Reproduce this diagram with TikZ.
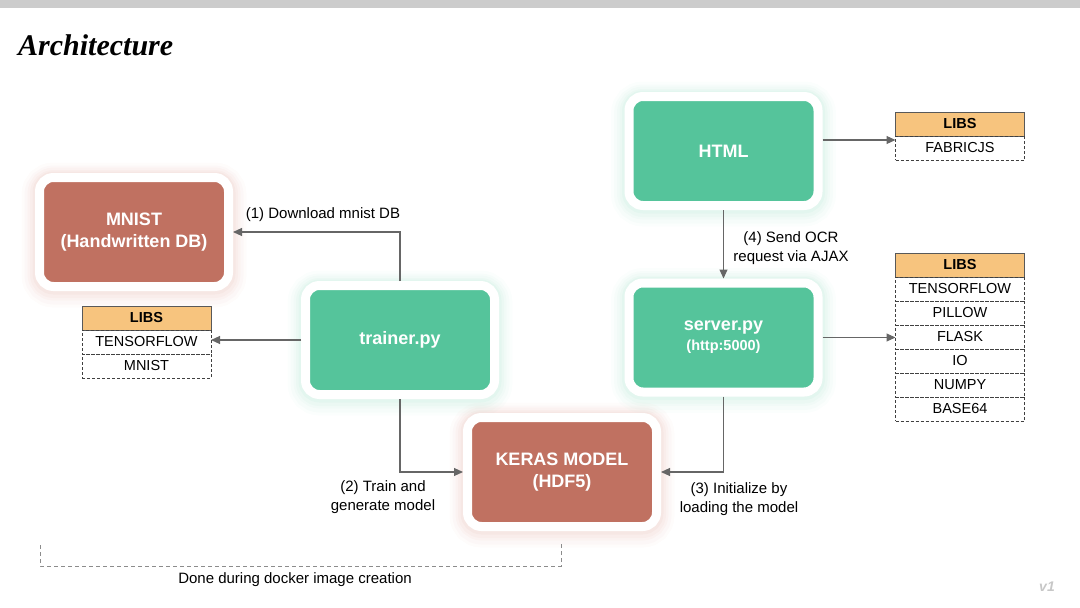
\documentclass[tikz,border=0pt]{standalone}
\usepackage{fontspec}
\setmainfont{Liberation Sans}
\newfontfamily\titlefont{Liberation Serif}
\usetikzlibrary{positioning,arrows.meta}

\definecolor{boxgreen}{HTML}{55C49B}
\definecolor{boxred}{HTML}{C07161}
\definecolor{libsorange}{HTML}{F7C47E}
\definecolor{arrowgray}{HTML}{666666}
\definecolor{glowred}{HTML}{D99488}
\definecolor{glowgreen}{HTML}{86D6B8}

\tikzset{
  block/.style={minimum width=189pt, minimum height=109pt, rounded corners=14pt, draw=white, line width=9pt, text=white, font=\bfseries\fontsize{18}{22}\selectfont, align=center},
  glow/.style={preaction={draw=#1, line width=36pt, opacity=.03, transform canvas={yshift=-3pt}},
    preaction={draw=#1, line width=30pt, opacity=.04, transform canvas={yshift=-3pt}},
    preaction={draw=#1, line width=24pt, opacity=.05, transform canvas={yshift=-2pt}},
    preaction={draw=#1, line width=19pt, opacity=.06, transform canvas={yshift=-2pt}},
    preaction={draw=#1, line width=14pt, opacity=.07, transform canvas={yshift=-1pt}}},
  greenblock/.style={block, fill=boxgreen, glow=glowgreen},
  redblock/.style={block, fill=boxred, glow=glowred},
  libshead/.style={draw=black!65, fill=libsorange, minimum width=129pt, minimum height=24pt, inner sep=0pt, outer sep=0pt, line width=.8pt, font=\bfseries\fontsize{14.5}{16}\selectfont},
  librow/.style={draw=black!75, dash pattern=on 3pt off 2pt, minimum width=129pt, minimum height=24pt, inner sep=0pt, outer sep=0pt, line width=.7pt, font=\fontsize{14.5}{16}\selectfont},
  arr/.style={draw=arrowgray, line width=1.1pt, -{Triangle[length=9pt,width=8pt]}},
  steplabel/.style={font=\fontsize{15}{18.5}\selectfont, align=center},
  bracket/.style={draw=black!45, line width=.7pt, dash pattern=on 4pt off 3pt},
}

\begin{document}
\begin{tikzpicture}[x=1pt,y=-1pt]
  \useasboundingbox (0,0) rectangle (1080,608);
  \fill[black!20] (0,0) rectangle (1080,8);
  \node[anchor=base west, inner sep=0pt, font=\titlefont\bfseries\itshape\fontsize{30}{33}\selectfont] (title) at (18,55) {Architecture};

  % blocks
  \node[redblock] (mnist) at (134,232) {MNIST\\(Handwritten DB)};
  \node[greenblock] (trainer) at (400,340) {trainer.py};
  \node[redblock] (keras) at (562,472) {KERAS MODEL\\(HDF5)};
  \node[greenblock] (html) at (723.5,151) {HTML};
  \node[greenblock] (server) at (723.5,337.5) {server.py\\[-2pt]{\fontsize{14.5}{16}\selectfont(http:5000)}};

  % libs
  \node[libshead] (libsa) at (146.5,318) {LIBS};
  \node[librow, below=0pt of libsa] (libsa1) {TENSORFLOW};
  \node[librow, below=0pt of libsa1] (libsa2) {MNIST};

  \node[libshead] (libsb) at (960,124) {LIBS};
  \node[librow, below=0pt of libsb] (libsb1) {FABRICJS};

  \node[libshead] (libsc0) at (960,265) {LIBS};
  \foreach \lib [count=\i, remember=\i as \j (initially 0)] in {TENSORFLOW,PILLOW,FLASK,IO,NUMPY,BASE64}
    \node[librow, below=0pt of libsc\j] (libsc\i) {\lib};

  % connectors
  \draw[arr] (trainer.west) -- (trainer.west -| libsa1.east);
  \draw[arr] (trainer.north) |- (mnist.east);
  \draw[arr] (trainer.south) |- (keras.west);
  \draw[arr] (server.south) |- (keras.east);
  \draw[arr] (html.south) -- (server.north);
  \coordinate (htmlout) at ([yshift=11pt]html.east);
  \draw[arr] (htmlout) -- (htmlout -| libsb1.west);
  \draw[arr] (server.east) -- (server.east -| libsc3.west);

  % labels
  \node[steplabel] (lbl1) at (323,215) {(1) Download mnist DB};
  \node[steplabel] (lbl2) at (383,497) {(2) Train and\\generate model};
  \node[steplabel] (lbl3) at (739,499) {(3) Initialize by\\loading the model};
  \node[steplabel] (lbl4) at (791,248) {(4) Send OCR\\request via AJAX};

  % docker bracket
  \coordinate (docka) at (40,545);
  \coordinate (dockb) at (561,543);
  \draw[bracket] (docka) -- ++(0,21) -| (dockb);
  \node[steplabel] (docklbl) at (295,580) {Done during docker image creation};

  \node[text=black!22, font=\bfseries\itshape\fontsize{14}{16}\selectfont] (ver) at (1047,587) {v1};
\end{tikzpicture}
\end{document}
